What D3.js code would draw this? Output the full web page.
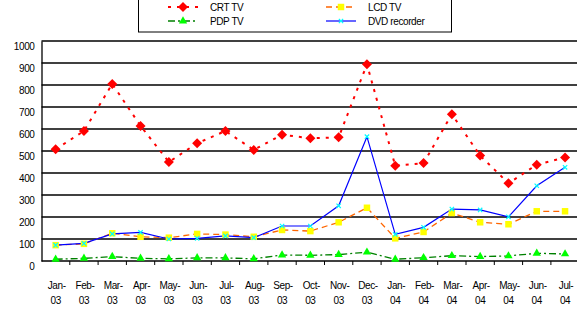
<!DOCTYPE html>
<html><head><meta charset="utf-8">
<script src="https://cdn.jsdelivr.net/npm/d3@7"></script>
<style>body{margin:0;background:#fff}svg{display:block}text{font-family:"Liberation Sans",Arial,sans-serif;font-size:10px;letter-spacing:-0.4px;fill:#000}</style>
</head><body><svg id="c" width="577" height="322"></svg>
<script>
const categories = ["Jan-03","Feb-03","Mar-03","Apr-03","May-03","Jun-03","Jul-03","Aug-03","Sep-03","Oct-03","Nov-03","Dec-03","Jan-04","Feb-04","Mar-04","Apr-04","May-04","Jun-04","Jul-04"];
const crtTV = [508,591,805,614,450,535,591,505,574,558,562,894,433,445,667,479,353,438,471];
const lcdTV = [72,78,126,110,106,123,120,110,141,136,176,242,103,132,218,176,167,226,226];
const pdpTV = [8,12,20,12,10,14,14,10,27,26,29,40,8,15,24,20,23,35,32];
const dvdRecorder = [72,80,123,130,100,103,114,106,159,159,251,565,121,153,236,232,201,342,426];
const yTicks = [0,100,200,300,400,500,600,700,800,900,1000];
const seriesNames = ["CRT TV","LCD TV","PDP TV","DVD recorder"];

const svg = d3.select("#c");
const left = 41.5, bandW = 28.3;
const x = d3.scaleBand().domain(categories).range([left, left + bandW*categories.length]);
const y = d3.scaleLinear().domain([0,1000]).range([261,41]);

// gridlines
svg.append("g").selectAll("line").data(yTicks.slice(1)).join("line")
  .attr("x1", left).attr("x2", 577).attr("y1", d=>y(d)).attr("y2", d=>y(d))
  .attr("stroke","#000").attr("stroke-width",1.3);

// y axis
const ya = svg.append("g").attr("transform",`translate(${left},0)`)
  .call(d3.axisLeft(y).tickValues(yTicks).tickSize(0).tickPadding(7).tickFormat(d3.format("d")));
ya.select(".domain").attr("stroke","#000").attr("stroke-width",1.3);
ya.selectAll("text").attr("dy","0.85em").style("font-size","10px");

// x axis
const xa = svg.append("g").attr("transform","translate(0,261)")
  .call(d3.axisBottom(x).tickSize(0).tickFormat(""));
xa.select(".domain").attr("stroke","#000").attr("stroke-width",1.3).attr("d",`M${left},0H577`);
svg.append("g").selectAll("line").data(categories.slice(1)).join("line")
  .attr("x1", d=>x(d)).attr("x2", d=>x(d)).attr("y1",261).attr("y2",265)
  .attr("stroke","#000");
const xl = svg.append("g").selectAll("text").data(categories).join("text")
  .attr("text-anchor","middle").attr("x", d=>x(d)+bandW/2);
xl.append("tspan").attr("x", d=>x(d)+bandW/2+1).attr("y",289).text(d=>d.split("-")[0]+"-");
xl.append("tspan").attr("x", d=>x(d)+bandW/2).attr("y",304).text(d=>d.split("-")[1]);

const cx = d => x(d) + bandW/2;
const line = vals => d3.line().x((v,i)=>cx(categories[i])).y(v=>y(v))(vals);

// PDP
svg.append("path").attr("d", line(pdpTV)).attr("fill","none").attr("stroke","#008000").attr("stroke-width",1.3).attr("stroke-dasharray","7,3,2,3");
// LCD
svg.append("path").attr("d", line(lcdTV)).attr("fill","none").attr("stroke","#FF6600").attr("stroke-width",1.3).attr("stroke-dasharray","6,4");
// DVD
svg.append("path").attr("d", line(dvdRecorder)).attr("fill","none").attr("stroke","#0000FF").attr("stroke-width",1.2);
// CRT
svg.append("path").attr("d", line(crtTV)).attr("fill","none").attr("stroke","#FF0000").attr("stroke-width",2).attr("stroke-dasharray","3,6");

const diamond = d3.symbol().type(d3.symbolSquare).size(50)();
const square = d3.symbol().type(d3.symbolSquare).size(42)();
const tri = d3.symbol().type(d3.symbolTriangle).size(30)();
const star = d3.symbol().type(d3.symbolTimes).size(14)();

function markers(vals, path, fill, rot, stroke){
  const g = svg.append("g").selectAll("path").data(vals).join("path")
    .attr("d", path)
    .attr("transform", (v,i)=>`translate(${cx(categories[i])},${y(v)}) rotate(${rot})`);
  if (stroke) g.attr("fill","none").attr("stroke",fill).attr("stroke-width",1.2);
  else g.attr("fill",fill);
}
markers(pdpTV, tri, "#00FF00", 0);
markers(lcdTV, square, "#FFFF00", 0);
markers(dvdRecorder, star, "#00FFFF", 0, true);
markers(crtTV, diamond, "#FF0000", 45);

// legend
const lg = svg.append("g");
lg.append("rect").attr("x",138.5).attr("y",-1).attr("width",313).attr("height",33).attr("fill","#fff").attr("stroke","#000").attr("stroke-width",1);
const legendItems = [
  {name:seriesNames[0], x:168, y:7, stroke:"#FF0000", sw:2, dash:"3,6", m:diamond, fill:"#FF0000", rot:45},
  {name:seriesNames[1], x:326, y:7, stroke:"#FF6600", sw:1.3, dash:"6,4", m:square, fill:"#FFFF00", rot:0},
  {name:seriesNames[2], x:168, y:21, stroke:"#008000", sw:1.3, dash:"7,3,2,3", m:tri, fill:"#00FF00", rot:0},
  {name:seriesNames[3], x:326, y:21, stroke:"#0000FF", sw:1.2, dash:null, m:star, fill:"#00FFFF", rot:0, st:true}
];
legendItems.forEach(d=>{
  lg.append("line").attr("x1",d.x).attr("x2",d.x+30).attr("y1",d.y).attr("y2",d.y)
    .attr("stroke",d.stroke).attr("stroke-width",d.sw).attr("stroke-dasharray",d.dash);
  const p = lg.append("path").attr("d",d.m).attr("transform",`translate(${d.x+15},${d.y}) rotate(${d.rot})`);
  if (d.st) p.attr("fill","none").attr("stroke",d.fill).attr("stroke-width",1.2); else p.attr("fill",d.fill);
  lg.append("text").attr("x",d.x+42).attr("y",d.y+3.5).text(d.name);
});
</script></body></html>
